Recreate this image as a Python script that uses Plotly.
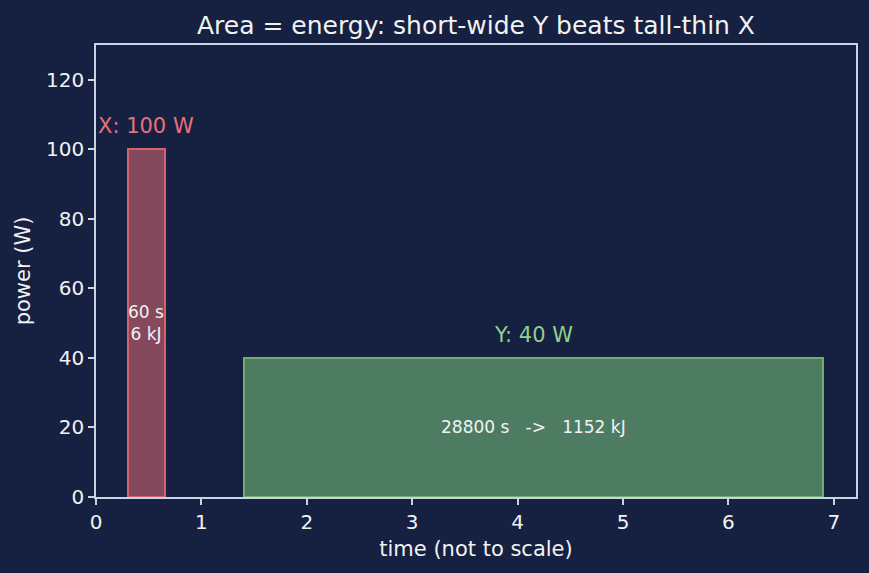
import plotly.graph_objects as go

# Data
names = ["X", "Y"]
starts = [0.3, 1.4]
widths = [0.35, 5.5]
powers = [100, 40]
seconds = [60, 28800]
energies_kj = [6, 1152]
fills = ["rgba(224,108,117,0.55)", "rgba(126,200,128,0.55)"]
edges = ["#d4626c", "#6fae6c"]
label_colors = ["#e8707a", "#8fd18a"]

BG = "#162040"
FG = "#f2f2f2"
AX = "#c9d3e6"
FONT = "DejaVu Sans"

centers = [s + w / 2 for s, w in zip(starts, widths)]

fig = go.Figure()
for i in range(len(names)):
    fig.add_trace(go.Bar(
        x=[centers[i]], y=[powers[i]], width=[widths[i]],
        marker=dict(color=fills[i], line=dict(color=edges[i], width=2)),
        showlegend=False, hoverinfo="skip",
    ))
    fig.add_annotation(x=centers[i], y=powers[i] + 6.6, text=f"{names[i]}: {powers[i]} W",
                       showarrow=False, yanchor="middle",
                       font=dict(color=label_colors[i], size=21, family=FONT))

fig.add_annotation(x=centers[0], y=50, text=f"{seconds[0]} s<br>{energies_kj[0]} kJ",
                   showarrow=False, font=dict(color=FG, size=17, family=FONT))
fig.add_annotation(x=centers[1], y=20, text=f"{seconds[1]} s   ->   {energies_kj[1]} kJ",
                   showarrow=False, font=dict(color=FG, size=17, family=FONT))

fig.update_layout(
    width=869, height=573,
    paper_bgcolor=BG, plot_bgcolor=BG,
    margin=dict(l=96, r=13, t=45, b=76),
    font=dict(family=FONT, color=FG, size=20),
    title=dict(text="Area = energy: short-wide Y beats tall-thin X", x=0.5, xref="paper",
               xanchor="center", y=1 - 25 / 573, yanchor="middle", font=dict(size=25, color=FG)),
    bargap=0,
)
fig.update_xaxes(range=[0, 7.21], tickvals=list(range(8)), showgrid=False, zeroline=False,
                 showline=True, linecolor=AX, linewidth=1.5, mirror=True,
                 ticks="outside", ticklen=6, tickcolor=AX, tickwidth=1.5,
                 title=dict(text="time (not to scale)", font=dict(size=21), standoff=9),
                 tickfont=dict(size=20))
fig.update_yaxes(range=[0, 130], tickvals=list(range(0, 121, 20)), showgrid=False, zeroline=False,
                 showline=True, linecolor=AX, linewidth=1.5, mirror=True,
                 ticks="outside", ticklen=6, tickcolor=AX, tickwidth=1.5,
                 title=dict(text="power (W)", font=dict(size=21), standoff=10),
                 tickfont=dict(size=20))

fig.write_html("out.html")
